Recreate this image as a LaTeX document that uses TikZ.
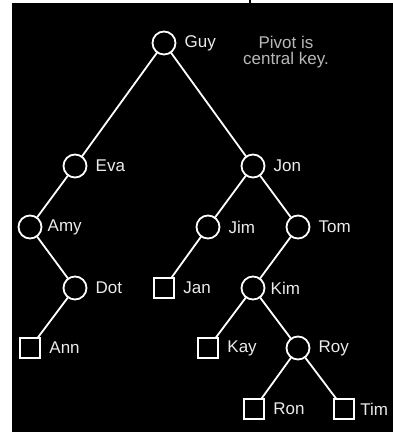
\documentclass[tikz,border=0pt]{standalone}
\usepackage{fontspec}
\setmainfont{Liberation Sans}
\begin{document}
\begin{tikzpicture}[x=1pt,y=-1pt,
  key/.style={circle,draw=white,line width=1.8pt,minimum size=23pt,inner sep=0pt,outer sep=0pt},
  leaf/.style={rectangle,draw=white,line width=1.6pt,minimum size=20.5pt,inner sep=0pt,outer sep=0pt},
  lbl/.style={text=white!92!black,font=\fontsize{17}{17}\selectfont,inner sep=0pt,label distance=9pt},
  edge/.style={draw=white,line width=1.8pt},
  note/.style={text=white!72!black,font=\fontsize{17}{16}\selectfont,align=center,inner sep=0pt}]
  % page and dark panel
  \useasboundingbox (0,0) rectangle (393,432);
  \fill[white] (0,0) rectangle (393,432);
  \fill[black] (12,3) rectangle (393,432);
  \fill[black] (249,0) rectangle (251,3);

  % tree nodes
  \node[key,label={[lbl]0:Guy}] (guy) at (164,43) {};
  \node[key,label={[lbl]0:Eva}] (eva) at (75,166) {};
  \node[key,label={[lbl]0:Jon}] (jon) at (253,166) {};
  \node[key,label={[lbl,label distance=6pt]0:Amy}] (amy) at (30,227) {};
  \node[key,label={[lbl]0:Jim}] (jim) at (208,227) {};
  \node[key,label={[lbl]0:Tom}] (tom) at (298,227) {};
  \node[key,label={[lbl]0:Dot}] (dot) at (75,288) {};
  \node[leaf,label={[lbl]0:Jan}] (jan) at (164,288) {};
  \node[key,label={[lbl,label distance=6pt]0:Kim}] (kim) at (253,288) {};
  \node[leaf,label={[lbl]0:Ann}] (ann) at (30,348) {};
  \node[leaf,label={[lbl]0:Kay}] (kay) at (208,348) {};
  \node[key,label={[lbl]0:Roy}] (roy) at (298,348) {};
  \node[leaf,label={[lbl]0:Ron}] (ron) at (254,409) {};
  \node[leaf,label={[lbl,label distance=6pt]0:Tim}] (tim) at (344,409) {};

  % note beside the root
  \node[note] (pivot) at (286,52) {Pivot is\\central key.};

  % branches
  \path[edge] (guy) -- (eva);
  \path[edge] (guy) -- (jon);
  \path[edge] (eva) -- (amy);
  \path[edge] (amy) -- (dot);
  \path[edge] (dot) -- (ann);
  \path[edge] (jon) -- (jim);
  \path[edge] (jon) -- (tom);
  \path[edge] (jim) -- (jan);
  \path[edge] (tom) -- (kim);
  \path[edge] (kim) -- (kay);
  \path[edge] (kim) -- (roy);
  \path[edge] (roy) -- (ron);
  \path[edge] (roy) -- (tim);
\end{tikzpicture}
\end{document}
